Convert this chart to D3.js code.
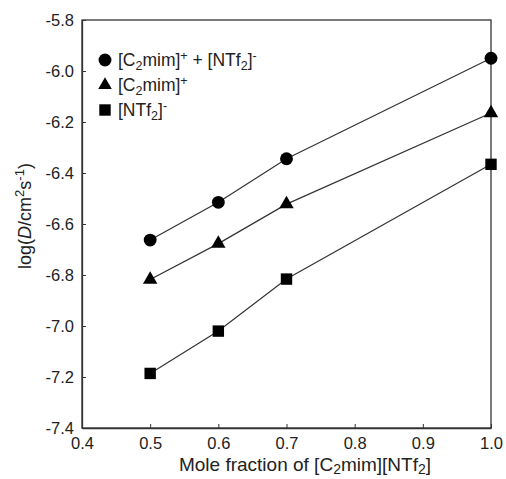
<!DOCTYPE html>
<html>
<head>
<meta charset="utf-8">
<script src="https://cdn.jsdelivr.net/npm/d3@7"></script>
<style>
body { margin: 0; background: #fff; }
text { font-family: "Liberation Sans", Arial, sans-serif; fill: #222; }
</style>
</head>
<body>
<div id="chart"></div>
<script>
// mole fraction values
const fractions = [0.5, 0.6, 0.7, 1.0];
const pairVals = [-6.663, -6.515, -6.344, -5.950];
const cationVals = [-6.818, -6.677, -6.522, -6.165];
const anionVals = [-7.186, -7.020, -6.816, -6.366];
const xTicks = [0.4, 0.5, 0.6, 0.7, 0.8, 0.9, 1.0];
const yTicks = [-5.8, -6.0, -6.2, -6.4, -6.6, -6.8, -7.0, -7.2, -7.4];

const series = [
    {name: "pair", vals: pairVals, shape: d3.symbolCircle},
    {name: "cation", vals: cationVals, shape: d3.symbolTriangle},
    {name: "anion", vals: anionVals, shape: d3.symbolSquare}
];

const margin = {top: 20, right: 15, bottom: 51, left: 82};
const width = 506 - margin.left - margin.right;
const height = 479 - margin.top - margin.bottom;

const svg = d3.select("#chart").append("svg")
    .attr("width", 506)
    .attr("height", 479)
    .append("g")
    .attr("transform", "translate(" + margin.left + "," + margin.top + ")");

const x = d3.scaleLinear().domain([0.4, 1.0]).range([0, width]);
const y = d3.scaleLinear().domain([-7.4, -5.8]).range([height, 0]);

// box
svg.append("rect")
    .attr("width", width)
    .attr("height", height)
    .attr("fill", "none")
    .attr("stroke", "#333")
    .attr("stroke-width", 1.3);

const xAxis = svg.append("g")
    .attr("transform", `translate(0, ${height})`)
    .call(d3.axisBottom(x).tickValues(xTicks).tickSizeInner(-4).tickSizeOuter(0).tickPadding(9)
        .tickFormat(d => d.toFixed(1)));

const yAxis = svg.append("g")
    .call(d3.axisLeft(y).tickValues(yTicks).tickSizeInner(-4).tickSizeOuter(0).tickPadding(8)
        .tickFormat(d => d.toFixed(1)));

[xAxis, yAxis].forEach(a => {
    a.select(".domain").attr("stroke", "#333").attr("stroke-width", 1.3);
    a.selectAll(".tick line").attr("stroke", "#333");
    a.selectAll(".tick text").style("font-size", "16.5px").attr("fill", "#222");
});

const line = d3.line()
    .x((d, i) => x(fractions[i]))
    .y(d => y(d));

series.forEach(s => {
    svg.append("path")
        .attr("d", line(s.vals))
        .attr("fill", "none")
        .attr("stroke", "#333")
        .attr("stroke-width", 1.2);

    svg.selectAll(".pt-" + s.name)
        .data(s.vals)
        .join("path")
        .attr("transform", (d, i) => `translate(${x(fractions[i])},${y(d)})`)
        .attr("d", d3.symbol().type(s.shape).size(s.shape === d3.symbolTriangle ? 90 : 130))
        .attr("fill", "#000");
});

// legend
const legendRows = [
    {shape: d3.symbolCircle, parts: [["[C", 0], ["2", -1], ["mim]", 0], ["+", 1], [" + [NTf", 0], ["2", -1], ["]", 0], ["-", 1]]},
    {shape: d3.symbolTriangle, parts: [["[C", 0], ["2", -1], ["mim]", 0], ["+", 1]]},
    {shape: d3.symbolSquare, parts: [["[NTf", 0], ["2", -1], ["]", 0], ["-", 1]]}
];

const legend = svg.selectAll(".legend")
    .data(legendRows)
    .join("g")
    .attr("transform", (d, i) => `translate(23, ${40 + i * 25})`);

legend.append("path")
    .attr("d", d => d3.symbol().type(d.shape).size(d.shape === d3.symbolTriangle ? 80 : 130)())
    .attr("fill", "#000");

const ltext = legend.append("text")
    .attr("x", 13)
    .attr("y", 6)
    .style("font-size", "17.5px");

ltext.selectAll("tspan")
    .data(d => d.parts)
    .join("tspan")
    .attr("baseline-shift", d => d[1] < 0 ? "-4" : d[1] > 0 ? "6" : null)
    .style("font-size", d => d[1] !== 0 ? "12.5px" : null)
    .text(d => d[0]);

// axis titles
const xTitle = svg.append("text")
    .attr("x", 223)
    .attr("y", height + 43)
    .attr("text-anchor", "middle")
    .style("font-size", "19px");
[["Mole fraction of [C", 0], ["2", -1], ["mim][NTf", 0], ["2", -1], ["]", 0]].forEach(p => {
    xTitle.append("tspan")
        .attr("baseline-shift", p[1] < 0 ? "-3" : null)
        .style("font-size", p[1] < 0 ? "14px" : null)
        .text(p[0]);
});

const yTitle = svg.append("text")
    .attr("transform", `translate(-51, 196) rotate(-90)`)
    .attr("text-anchor", "middle")
    .style("font-size", "18px");
[["log(", 0, false], ["D", 0, true], ["/cm", 0, false], ["2", 1, false], ["s", 0, false], ["-1", 1, false], [")", 0, false]].forEach(p => {
    yTitle.append("tspan")
        .attr("baseline-shift", p[1] > 0 ? "7" : null)
        .style("font-size", p[1] > 0 ? "13px" : null)
        .style("font-style", p[2] ? "italic" : null)
        .text(p[0]);
});
</script>
</body>
</html>
